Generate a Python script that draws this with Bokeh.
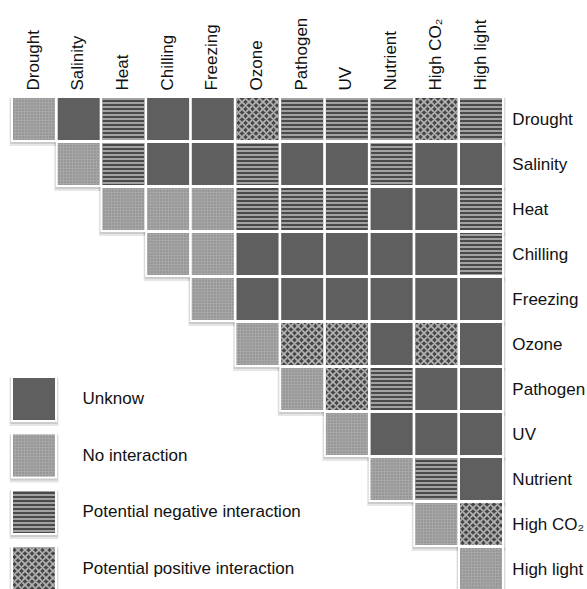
import numpy as np
from bokeh.plotting import figure
from bokeh.models import ColumnDataSource, Range1d
from bokeh.core.properties import value
from bokeh.embed import file_html
from bokeh.resources import INLINE

# ---------------- data ----------------
stresses = ["Drought", "Salinity", "Heat", "Chilling", "Freezing", "Ozone",
            "Pathogen", "UV", "Nutrient", "High CO\u2082", "High light"]

# U = unknown, N = no interaction, - = potential negative, + = potential positive
# each row lists the columns from the diagonal to "High light"
row_drought = ["N", "U", "-", "U", "U", "+", "-", "-", "-", "+", "-"]
row_salinity = ["N", "-", "U", "U", "-", "U", "U", "-", "U", "U"]
row_heat = ["N", "N", "N", "-", "-", "-", "U", "U", "-"]
row_chilling = ["N", "N", "U", "U", "U", "U", "U", "-"]
row_freezing = ["N", "U", "U", "U", "U", "U", "U"]
row_ozone = ["N", "+", "+", "U", "+", "U"]
row_pathogen = ["N", "+", "-", "U", "U"]
row_uv = ["N", "U", "U", "U"]
row_nutrient = ["N", "-", "U"]
row_highco2 = ["N", "+"]
row_highlight = ["N"]

legend_codes = ["U", "N", "-", "+"]
legend_labels = ["Unknow", "No interaction",
                 "Potential negative interaction", "Potential positive interaction"]

rows = [row_drought, row_salinity, row_heat, row_chilling, row_freezing, row_ozone,
        row_pathogen, row_uv, row_nutrient, row_highco2, row_highlight]

# ---------------- layout / style ----------------
W, H = 587, 589
XSTEP, YSTEP = 44.7, 45.0
X0, Y0 = 33.5, 118.5          # canvas pixel of column 0 / row 0 centres
FONT = "Liberation Sans"
FS = "17px"

styles = {
    "U": dict(fill_color="#5f5f5f", hatch_pattern=None),
    "N": dict(fill_color="#a6a6a6", hatch_pattern="dot", hatch_color="#7e7e7e",
              hatch_scale=3, hatch_weight=1),
    "-": dict(fill_color="#4a4a4a", hatch_pattern="horizontal_line", hatch_color="#bdbdbd",
              hatch_scale=4, hatch_weight=1.5),
    "+": dict(fill_color="#474747", hatch_pattern="diagonal_cross", hatch_color="#b3b3b3",
              hatch_scale=7, hatch_weight=1.6),
}

p = figure(width=W, height=H, output_backend="svg", toolbar_location=None,
           x_range=Range1d(-X0 / XSTEP, (W - X0) / XSTEP),
           y_range=Range1d((H - Y0) / YSTEP, -Y0 / YSTEP),
           min_border=0, x_axis_type=None, y_axis_type=None)
p.outline_line_color = None
p.grid.visible = False
p.background_fill_color = "white"
p.border_fill_color = "white"

# cells
cx, cy, cc = [], [], []
for i, r in enumerate(rows):
    for k, code in enumerate(r):
        cx.append(i + k)
        cy.append(i)
        cc.append(code)

# legend swatches (placed at column 0, below the diagonal)
LEG_Y0, LEG_STEP = 6.222, 1.255
lx = [0] * len(legend_codes)
ly = [LEG_Y0 + LEG_STEP * k for k in range(len(legend_codes))]

allx = cx + lx
ally = cy + ly
allc = cc + legend_codes

shadow = ColumnDataSource(dict(x=allx, y=[v + 3.0 / YSTEP for v in ally]))
shadow2 = ColumnDataSource(dict(x=allx, y=[v + 1.5 / YSTEP for v in ally]))
base = ColumnDataSource(dict(x=allx, y=ally))

p.rect(x="x", y="y", width=49, height=48, width_units="screen", height_units="screen",
       source=shadow, fill_color="#9a9a9a", fill_alpha=0.25, line_color=None)
p.rect(x="x", y="y", width=47, height=47, width_units="screen", height_units="screen",
       source=shadow2, fill_color="#9a9a9a", fill_alpha=0.35, line_color=None)
p.rect(x="x", y="y", width=46, height=46, width_units="screen", height_units="screen",
       source=base, fill_color="white", line_color=None)

for code, st in styles.items():
    idx = [j for j, c in enumerate(allc) if c == code]
    src = ColumnDataSource(dict(x=[allx[j] for j in idx], y=[ally[j] for j in idx]))
    p.rect(x="x", y="y", width=42, height=42, width_units="screen", height_units="screen",
           source=src, line_color=None, **st)

# column labels (rotated)
top = ColumnDataSource(dict(x=list(range(len(stresses))), y=[-0.5] * len(stresses), t=stresses))
p.text(x="x", y="y", text="t", source=top, angle=np.pi / 2, text_align="left",
       text_baseline="middle", y_offset=-6, x_offset=-1,
       text_font=value(FONT), text_font_size=FS, text_color="#111111")

# row labels (right)
right = ColumnDataSource(dict(x=[len(stresses) - 0.5] * len(stresses),
                              y=list(range(len(stresses))), t=stresses))
p.text(x="x", y="y", text="t", source=right, text_align="left", text_baseline="middle",
       x_offset=9, text_font=value(FONT), text_font_size=FS, text_color="#111111")

# legend labels
leg = ColumnDataSource(dict(x=[(82 - X0) / XSTEP] * len(legend_labels), y=ly, t=legend_labels))
p.text(x="x", y="y", text="t", source=leg, text_align="left", text_baseline="middle",
       text_font=value(FONT), text_font_size=FS, text_color="#111111")

open("out.html", "w").write(file_html(p, INLINE))
